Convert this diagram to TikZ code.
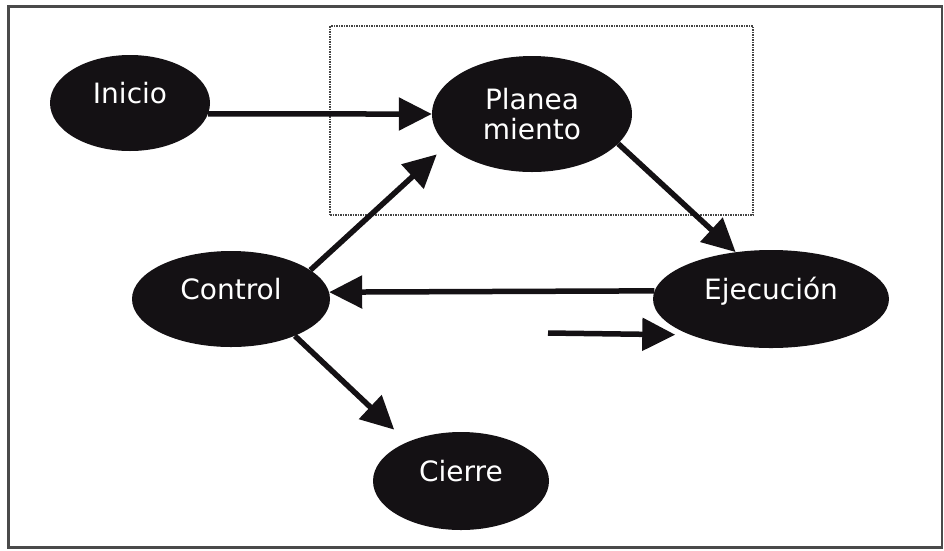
\documentclass[tikz,border=0pt]{standalone}
\usepackage{fontspec}
\setmainfont{DejaVu Sans}
\usetikzlibrary{shapes.geometric,arrows.meta}
\definecolor{ink}{HTML}{141114}
\definecolor{framegray}{HTML}{4A4A4A}
\definecolor{dotgray}{HTML}{444444}
\tikzset{
  oval/.style={ellipse, fill=ink, draw=none, inner sep=0pt, text=white,
    font=\fontsize{28}{30}\selectfont},
  oneline/.style={text height=0pt, text depth=0pt},
  flow/.style={draw=ink, line width=5.5pt, -{Triangle[length=33pt,width=32pt]}},
  planbox/.style={draw=dotgray, densely dotted, line width=1.5pt, inner sep=0pt},
  framebox/.style={draw=framegray, line width=2.5pt, inner sep=0pt},
}
\begin{document}
\begin{tikzpicture}[x=1pt,y=-1pt]
  \useasboundingbox (0,0) rectangle (944,550);
  % outer frame and the dotted planning zone
  \node[framebox, minimum width=933.5pt, minimum height=541pt] (frame) at (475.25,277) {};
  \node[planbox, minimum width=423pt, minimum height=189pt] (zone) at (541.5,120.5) {};

  % process stages
  \node[oval, oneline, minimum width=160pt, minimum height=96pt] (inicio) at (130,103) {Inicio};
  \node[oval, align=center, minimum width=200pt, minimum height=116pt] (planea) at (532,114) {Planea\\miento};
  \node[oval, oneline, minimum width=198pt, minimum height=96pt] (control) at (231,299) {Control};
  \node[oval, oneline, minimum width=236pt, minimum height=98pt] (ejec) at (771,299) {Ejecución};
  \node[oval, oneline, minimum width=176pt, minimum height=98pt] (cierre) at (461,481) {Cierre};
  \coordinate (feed) at (548,333);

  % transitions
  \draw[flow] (inicio.-8) -- (planea.west);
  \draw[flow, shorten >=14pt] (control.20) -- (planea.200);
  \draw[flow] (planea.-19) -- (ejec.127);
  \draw[flow] (ejec.176) -- (control.4);
  \draw[flow, shorten >=18pt] (control.-30) -- (cierre.144);
  \draw[flow, shorten >=15pt] (feed) -- (ejec.204);
\end{tikzpicture}
\end{document}
